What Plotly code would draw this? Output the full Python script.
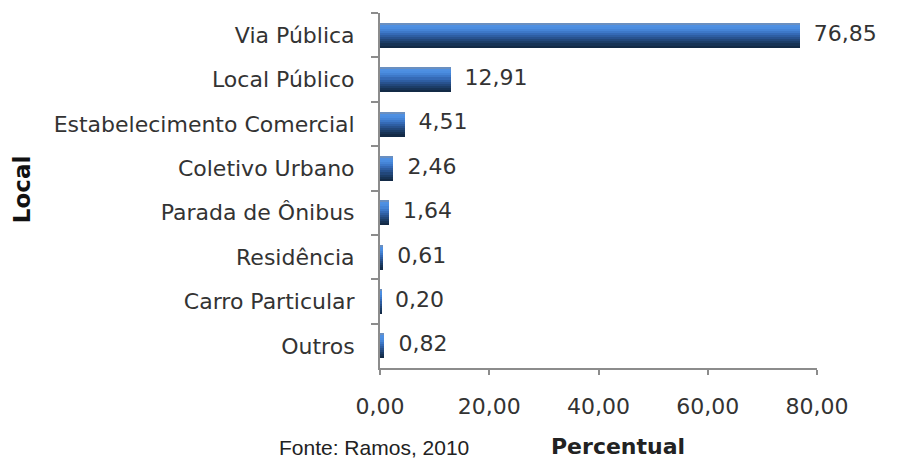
import plotly.graph_objects as go

categories = ["Via Pública", "Local Público", "Estabelecimento Comercial", "Coletivo Urbano",
              "Parada de Ônibus", "Residência", "Carro Particular", "Outros"]
values = [76.85, 12.91, 4.51, 2.46, 1.64, 0.61, 0.20, 0.82]
x_ticks = [0, 20, 40, 60, 80]

# vertical gradient of the bars, top -> bottom
grad = ["#6a8fc0", "#4f90e2", "#4b8de0", "#4584d6", "#3d78c8", "#356ab6",
        "#2e5ea2", "#28528e", "#22477a", "#1c3d67", "#173355", "#132a46"]

fig = go.Figure()
bw = 0.56
n = len(grad)
for i, c in enumerate(grad):
    fig.add_trace(go.Bar(
        x=values, y=categories, orientation="h",
        width=bw / n + 0.004, offset=-bw / 2 + i * bw / n,
        marker=dict(color=c, line=dict(width=0)),
        showlegend=False, hoverinfo="skip"))

fig.add_trace(go.Scatter(
    x=values, y=categories, mode="text",
    texttemplate="  %{x:.2f}", textposition="middle right",
    textfont=dict(family="DejaVu Sans", size=22, color="#333333"),
    showlegend=False, cliponaxis=False))

fig.update_layout(
    width=908, height=453,
    margin=dict(l=372, r=99, t=5, b=93),
    paper_bgcolor="white", plot_bgcolor="white",
    barmode="overlay", bargap=0,
    separators=",.",
    font=dict(family="DejaVu Sans", size=22, color="#333333"),
    xaxis=dict(range=[0, 80], tickvals=x_ticks, tickformat=".2f",
               showgrid=False, zeroline=False,
               showline=True, linecolor="#8c8c8c", linewidth=2,
               ticks="outside", ticklen=5, tickwidth=2, tickcolor="#8c8c8c",
               ticklabelstandoff=13,
               tickfont=dict(family="DejaVu Sans", size=22, color="#333333")),
    yaxis=dict(type="category", categoryorder="array", categoryarray=categories,
               range=[7.5, -0.5], showgrid=False, zeroline=False,
               showline=True, linecolor="#8c8c8c", linewidth=2,
               ticks="outside", ticklen=7, tickwidth=2, tickcolor="#8c8c8c",
               tickson="boundaries", ticklabelstandoff=19,
               tickfont=dict(family="DejaVu Sans", size=22, color="#333333")),
    annotations=[
        dict(text="<b>Local</b>", xref="paper", yref="paper", x=-0.819, y=0.504,
             xanchor="center", yanchor="middle", textangle=-90, showarrow=False,
             font=dict(family="DejaVu Sans", size=23, color="#111111")),
        dict(text="<b>Percentual</b>", xref="paper", yref="paper", x=0.545, y=-0.221,
             xanchor="center", yanchor="middle", showarrow=False,
             font=dict(family="DejaVu Sans", size=22, color="#222222")),
        dict(text="Fonte: Ramos, 2010", xref="paper", yref="paper", x=-0.236, y=-0.185,
             xanchor="left", yanchor="top", showarrow=False,
             font=dict(family="Liberation Sans", size=21, color="#222222")),
    ],
)

fig.write_html("out.html")
